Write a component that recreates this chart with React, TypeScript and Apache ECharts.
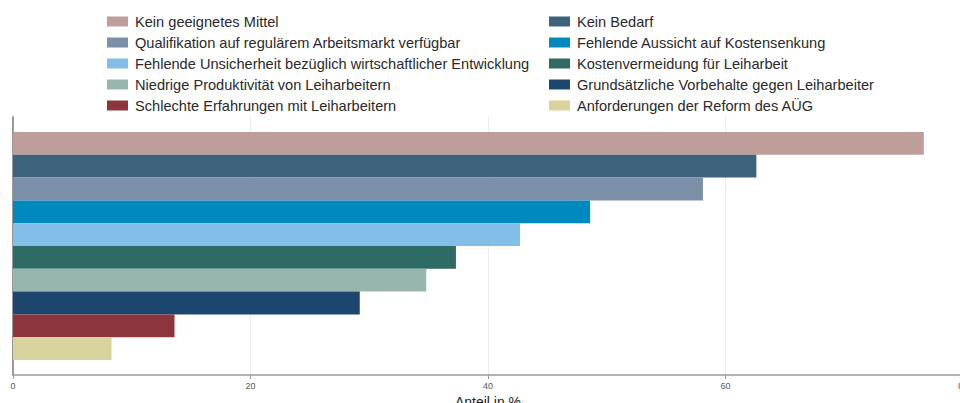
import React, { useEffect, useRef } from "react";
import * as echarts from "echarts";

const seriesNames = [
  "Kein geeignetes Mittel",
  "Kein Bedarf",
  "Qualifikation auf regulärem Arbeitsmarkt verfügbar",
  "Fehlende Aussicht auf Kostensenkung",
  "Fehlende Unsicherheit bezüglich wirtschaftlicher Entwicklung",
  "Kostenvermeidung für Leiharbeit",
  "Niedrige Produktivität von Leiharbeitern",
  "Grundsätzliche Vorbehalte gegen Leiharbeiter",
  "Schlechte Erfahrungen mit Leiharbeitern",
  "Anforderungen der Reform des AÜG",
];
const values = [76.7, 62.6, 58.1, 48.6, 42.7, 37.3, 34.8, 29.2, 13.6, 8.3];
const colors = [
  "#bd9e98",
  "#3d627c",
  "#7b90a8",
  "#0089bf",
  "#82bee8",
  "#2d6b63",
  "#96b6ae",
  "#1c466e",
  "#8c353d",
  "#d9d39e",
];
const categories = [""];
const axisName = "Anteil in %";

export default function App() {
  const ref = useRef<HTMLDivElement>(null);
  useEffect(() => {
    if (!ref.current) return;
    const chart = echarts.init(ref.current, undefined, { renderer: "svg" });
    const font = "Arial, 'Liberation Sans', sans-serif";
    const legendCommon = {
      orient: "vertical" as const,
      top: 9,
      padding: 5,
      itemWidth: 21,
      itemHeight: 10,
      itemGap: 6,
      icon: "rect",
      selectedMode: false,
      textStyle: { fontSize: 14.6, color: "#2a2a2a", fontFamily: font, lineHeight: 14.3, padding: [0, 0, 0, 2] },
    };
    chart.setOption({
      animation: false,
      textStyle: { fontFamily: font },
      legend: [
        { ...legendCommon, left: 102, data: seriesNames.filter((_, i) => i % 2 === 0) },
        { ...legendCommon, left: 544, data: seriesNames.filter((_, i) => i % 2 === 1) },
      ],
      grid: { left: 13, top: 117, width: 950, height: 258, containLabel: false, outerBoundsMode: "none" },
      xAxis: {
        type: "value",
        min: 0,
        max: 80,
        interval: 20,
        name: axisName,
        nameLocation: "middle",
        nameGap: 17,
        nameTextStyle: { fontSize: 14, color: "#222", fontFamily: font },
        axisLine: { show: true, lineStyle: { color: "#999", width: 1.5 } },
        axisTick: { show: true, length: 4, lineStyle: { color: "#999" } },
        axisLabel: { fontSize: 9, color: "#555", margin: 6 },
        splitLine: { show: true, lineStyle: { color: "#e6eeee", width: 1 } },
      },
      yAxis: {
        type: "category",
        data: categories,
        inverse: true,
        axisLine: { show: true, lineStyle: { color: "#999", width: 2 } },
        axisTick: { show: false },
        axisLabel: { show: false },
        splitLine: { show: false },
      },
      series: seriesNames.map((name, i) => ({
        name,
        type: "bar",
        data: [values[i]],
        barGap: "0%",
        barCategoryGap: "11.6%",
        itemStyle: { color: colors[i] },
      })),
    });
    return () => chart.dispose();
  }, []);
  return (
    <div
      ref={ref}
      style={{ position: "fixed", left: 0, top: 0, width: 960, height: 403, background: "#fff" }}
    />
  );
}
